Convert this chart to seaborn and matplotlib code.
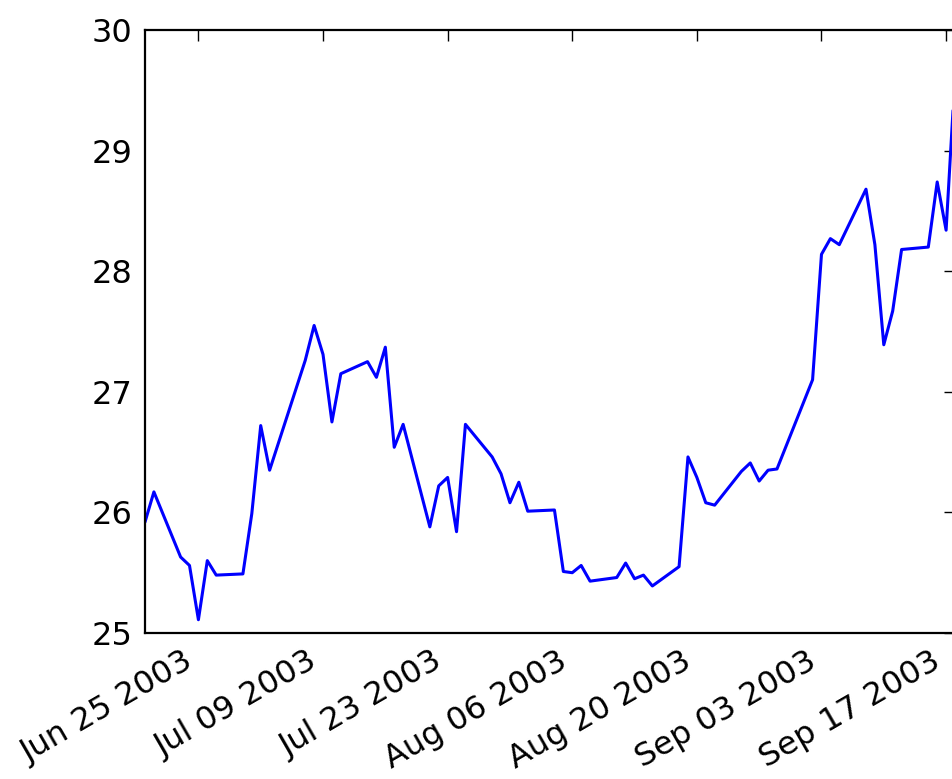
import numpy as np
import pandas as pd
import matplotlib
matplotlib.use("Agg")
import matplotlib.pyplot as plt
import matplotlib.dates as mdates
import seaborn as sns

# trading days Jun 19 - Sep 18 2003 (no Jul 4, no Sep 1)
dates = ["2003-06-19", "2003-06-20", "2003-06-23", "2003-06-24", "2003-06-25",
         "2003-06-26", "2003-06-27", "2003-06-30", "2003-07-01", "2003-07-02",
         "2003-07-03", "2003-07-07", "2003-07-08", "2003-07-09", "2003-07-10",
         "2003-07-11", "2003-07-14", "2003-07-15", "2003-07-16", "2003-07-17",
         "2003-07-18", "2003-07-21", "2003-07-22", "2003-07-23", "2003-07-24",
         "2003-07-25", "2003-07-28", "2003-07-29", "2003-07-30", "2003-07-31",
         "2003-08-01", "2003-08-04", "2003-08-05", "2003-08-06", "2003-08-07",
         "2003-08-08", "2003-08-11", "2003-08-12", "2003-08-13", "2003-08-14",
         "2003-08-15", "2003-08-18", "2003-08-19", "2003-08-20", "2003-08-21",
         "2003-08-22", "2003-08-25", "2003-08-26", "2003-08-27", "2003-08-28",
         "2003-08-29", "2003-09-02", "2003-09-03", "2003-09-04", "2003-09-05",
         "2003-09-08", "2003-09-09", "2003-09-10", "2003-09-11", "2003-09-12",
         "2003-09-15", "2003-09-16", "2003-09-17", "2003-09-18"]
close = [25.92, 26.17, 25.63, 25.56, 25.11,
         25.60, 25.48, 25.49, 25.99, 26.72,
         26.35, 27.26, 27.55, 27.31, 26.75,
         27.15, 27.25, 27.12, 27.37, 26.54,
         26.73, 25.88, 26.22, 26.29, 25.84,
         26.73, 26.46, 26.32, 26.08, 26.25,
         26.01, 26.02, 25.51, 25.50, 25.56,
         25.43, 25.46, 25.58, 25.45, 25.48,
         25.39, 25.55, 26.46, 26.29, 26.08,
         26.06, 26.34, 26.41, 26.26, 26.35,
         26.36, 27.10, 28.14, 28.27, 28.22,
         28.68, 28.22, 27.39, 27.67, 28.18,
         28.20, 28.74, 28.34, 29.62]
tick_dates = ["2003-06-25", "2003-07-09", "2003-07-23", "2003-08-06",
              "2003-08-20", "2003-09-03", "2003-09-17"]

df = pd.DataFrame({"date": pd.to_datetime(dates), "close": close})

sns.set_theme(style="white")
plt.rcParams['font.family'] = ['DejaVu Sans']

fig = plt.figure(figsize=(9.53, 7.79), dpi=100)
ax = fig.add_axes([145/953, 1 - 633/779, (955 - 145)/953, (633 - 30)/779])

sns.lineplot(data=df, x="date", y="close", color="blue", linewidth=2.2, ax=ax)

ax.set_xlim(df["date"].iloc[0], df["date"].iloc[-1])
ax.set_ylim(25, 30)
ax.set_yticks([25, 26, 27, 28, 29, 30])
ax.set_xticks(pd.to_datetime(tick_dates))
ax.xaxis.set_major_formatter(mdates.DateFormatter("%b %d %Y"))
ax.set_xlabel("")
ax.set_ylabel("")

for s in ax.spines.values():
    s.set_color("black")
    s.set_linewidth(1.6)
# right spine falls just outside the picture in the reference
ax.spines["right"].set_visible(False)
ax.tick_params(direction="in", length=8, width=1, color="black",
               top=True, right=True, labelsize=23, pad=9, labelcolor="black")
plt.setp(ax.get_xticklabels(), rotation=30, ha="right")

fig.savefig("out.png", dpi=100)
